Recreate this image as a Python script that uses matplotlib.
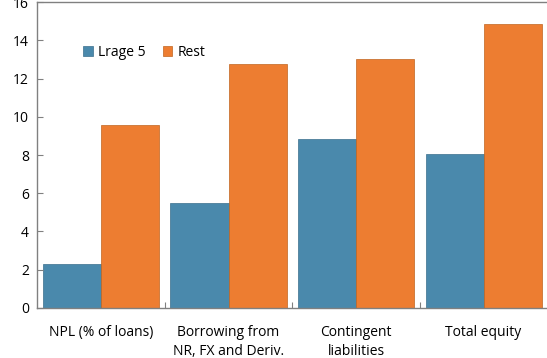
import matplotlib
matplotlib.use("Agg")
import matplotlib.pyplot as plt
import numpy as np

plt.rcParams['font.family'] = ['Open Sans', 'DejaVu Sans']

categories = ["NPL (% of loans)", "Borrowing from\nNR, FX and Deriv.", "Contingent\nliabilities", "Total equity"]
large5 = [2.3, 5.5, 8.85, 8.05]
rest = [9.55, 12.75, 13.0, 14.85]
series_names = ["Lrage 5", "Rest"]
yticks = [0, 2, 4, 6, 8, 10, 12, 14, 16]

fig = plt.figure(figsize=(5.47, 3.58), dpi=100)
ax = fig.add_axes([0.068, 0.140, 0.932 + 0.01, 0.854])

x = np.arange(len(categories))
w = 0.455
ax.bar(x - w/2, large5, w, color="#4A89AC", edgecolor="#3a6f8c", linewidth=0.5, label=series_names[0])
ax.bar(x + w/2, rest, w, color="#ED7D31", edgecolor="#c0651f", linewidth=0.5, label=series_names[1])

ax.set_xlim(-0.5, 3.5 + 0.04)
ax.set_ylim(0, 16)
ax.set_yticks(yticks)
ax.tick_params(axis='y', direction='in', length=4, color='#808080', labelsize=10, pad=6)
ax.set_xticks([0.5, 1.5, 2.5])
ax.set_xticklabels([])
ax.set_xticks(x, minor=True)
ax.set_xticklabels(categories, minor=True, fontsize=10, linespacing=1.45)
ax.tick_params(axis='x', which='major', direction='in', length=4, color='#808080')
ax.tick_params(axis='x', which='minor', length=0, pad=12)

for s in ['left', 'bottom', 'top', 'right']:
    ax.spines[s].set_color('#808080')
    ax.spines[s].set_linewidth(1.0)

leg = ax.legend(loc='upper left', bbox_to_anchor=(0.065, 0.90), ncol=2, frameon=False,
                fontsize=10, handlelength=0.7, handleheight=0.7, handletextpad=0.4, columnspacing=1.2)

fig.savefig("out.png", dpi=100)
